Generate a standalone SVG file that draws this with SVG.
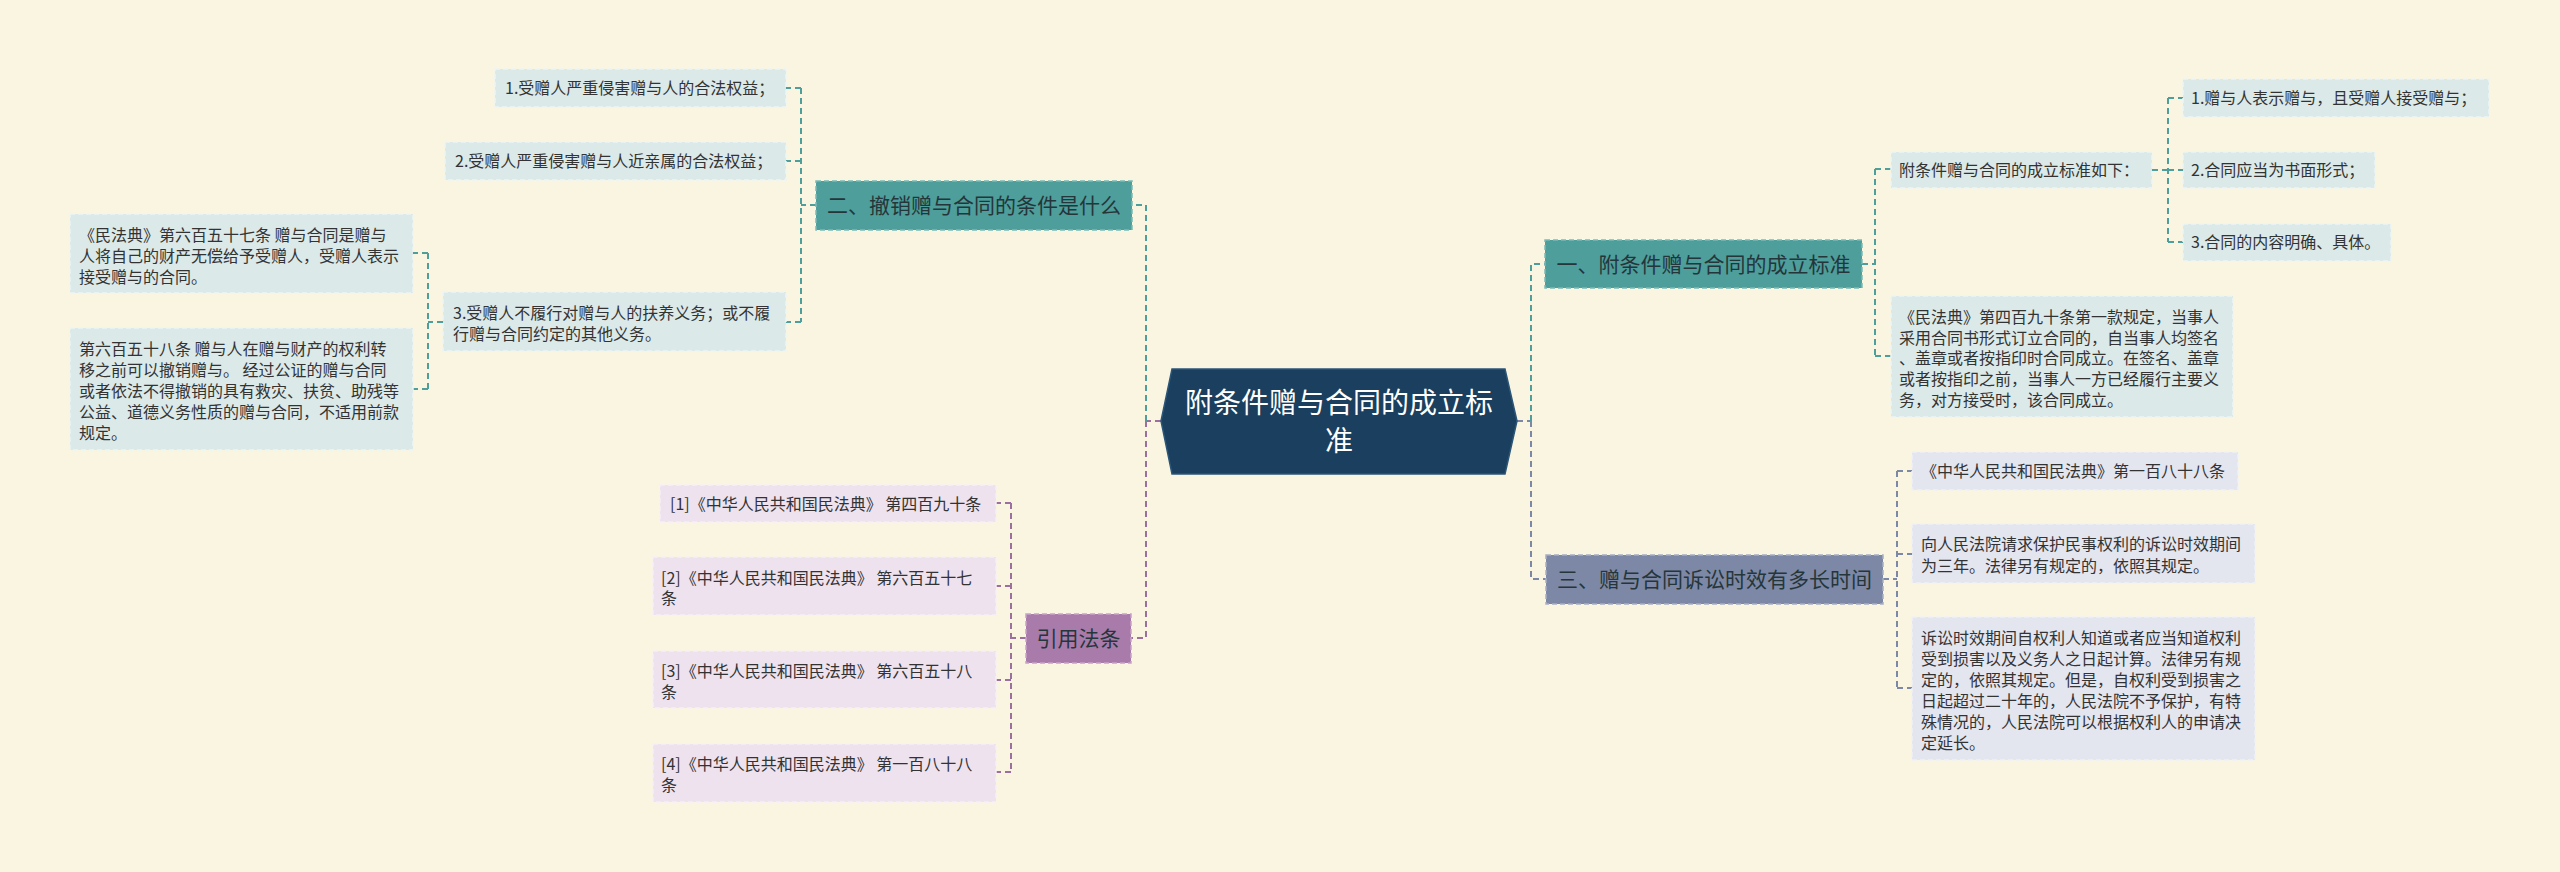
<svg xmlns="http://www.w3.org/2000/svg" width="2560" height="872" viewBox="0 0 2560 872">
<style>
text{font-family:"Noto Sans CJK SC","Liberation Sans",sans-serif;}
.bg{fill:#faf5e0;}
.c{fill:none;stroke-width:2;stroke-dasharray:6 4;}
.ct{stroke:#4e9e9c;}
.cs{stroke:#7d88a6;}
.cp{stroke:#9b6f9e;}
.n1{stroke-width:1.5;stroke-dasharray:5 3;}
.teal{fill:#4e9e9c;stroke:#7bbab8;}
.slate{fill:#7d88a6;stroke:#a6aec4;}
.purp{fill:#a97bab;stroke:#c7a3c8;}
.t1{font-size:21px;fill:#25363a;text-anchor:middle;}
.bt{fill:#dbe9e9;stroke:#eef5f5;stroke-width:1.5;stroke-dasharray:5 3;}
.bs{fill:#e3e5ef;stroke:#f0f1f6;stroke-width:1.5;stroke-dasharray:5 3;}
.bp{fill:#ede2ee;stroke:#f6eff6;stroke-width:1.5;stroke-dasharray:5 3;}
.t2{font-size:16px;fill:#333333;}
</style>
<rect class="bg" x="0" y="0" width="2560" height="872"/>
<g id="connectors">
<path class="c cp" d="M1161,421 H1146"/>
<path class="c ct" d="M1146,421 V205 H1132"/>
<path class="c cp" d="M1146,421 V638 H1131"/>
<path class="c ct" d="M816,205 H801"/>
<path class="c ct" d="M801,88 V322"/>
<path class="c ct" d="M801,88 H786 M801,161 H786 M801,322 H786"/>
<path class="c ct" d="M443,322 H428"/>
<path class="c ct" d="M428,253 V389"/>
<path class="c ct" d="M428,253 H413 M428,389 H413"/>
<path class="c cp" d="M1026,638 H1011"/>
<path class="c cp" d="M1011,503 V772"/>
<path class="c cp" d="M1011,503 H996 M1011,586 H996 M1011,680 H996 M1011,772 H996"/>
<path class="c cs" d="M1517,421 H1531"/>
<path class="c ct" d="M1531,421 V264 H1545"/>
<path class="c cs" d="M1531,421 V579 H1546"/>
<path class="c ct" d="M1862,264 H1875"/>
<path class="c ct" d="M1875,169 V356"/>
<path class="c ct" d="M1875,169 H1891 M1875,356 H1891"/>
<path class="c ct" d="M2152,170 H2168"/>
<path class="c ct" d="M2168,98 V242"/>
<path class="c ct" d="M2168,98 H2183 M2168,170 H2183 M2168,242 H2183"/>
<path class="c cs" d="M1883,579 H1897"/>
<path class="c cs" d="M1897,471 V688"/>
<path class="c cs" d="M1897,471 H1912 M1897,554 H1912 M1897,688 H1912"/>
</g>
<g id="root">
<polygon points="1161,421 1172,369 1505,369 1517,421 1505,474 1172,474" fill="#1b3f5e" stroke="#2c5678" stroke-width="1.5"/>
<text x="1339" y="413" font-size="28" fill="#ffffff" text-anchor="middle">附条件赠与合同的成立标</text>
<text x="1339" y="451" font-size="28" fill="#ffffff" text-anchor="middle">准</text>
</g>
<g id="n2">
<rect class="n1 teal" x="816" y="181" width="316" height="49"/>
<text class="t1" x="974" y="213">二、撤销赠与合同的条件是什么</text>
</g>
<g id="n2a">
<rect class="bt" x="495" y="69" width="291" height="38"/>
<text class="t2" x="505" y="94">1.受赠人严重侵害赠与人的合法权益；</text>
</g>
<g id="n2b">
<rect class="bt" x="445" y="142" width="341" height="38"/>
<text class="t2" x="455" y="167">2.受赠人严重侵害赠与人近亲属的合法权益；</text>
</g>
<g id="n2c">
<rect class="bt" x="443" y="292" width="343" height="59"/>
<text class="t2" x="453" y="319">3.受赠人不履行对赠与人的扶养义务；或不履</text>
<text class="t2" x="453" y="340">行赠与合同约定的其他义务。</text>
</g>
<g id="n2c1">
<rect class="bt" x="70" y="214" width="343" height="79"/>
<text class="t2" x="79" y="241">《民法典》第六百五十七条 赠与合同是赠与</text>
<text class="t2" x="79" y="262">人将自己的财产无偿给予受赠人，受赠人表示</text>
<text class="t2" x="79" y="283">接受赠与的合同。</text>
</g>
<g id="n2c2">
<rect class="bt" x="70" y="328" width="343" height="122"/>
<text class="t2" x="79" y="355">第六百五十八条 赠与人在赠与财产的权利转</text>
<text class="t2" x="79" y="376">移之前可以撤销赠与。 经过公证的赠与合同</text>
<text class="t2" x="79" y="397">或者依法不得撤销的具有救灾、扶贫、助残等</text>
<text class="t2" x="79" y="418">公益、道德义务性质的赠与合同，不适用前款</text>
<text class="t2" x="79" y="439">规定。</text>
</g>
<g id="n4">
<rect class="n1 purp" x="1026" y="614" width="105" height="49"/>
<text class="t1" x="1078.5" y="646" fill="#3a2a3c">引用法条</text>
</g>
<g id="n4a">
<rect class="bp" x="660" y="485" width="336" height="37"/>
<text class="t2" x="670" y="510">[1]《中华人民共和国民法典》 第四百九十条</text>
</g>
<g id="n4b">
<rect class="bp" x="653" y="557" width="343" height="58"/>
<text class="t2" x="661" y="584">[2]《中华人民共和国民法典》 第六百五十七</text>
<text class="t2" x="661" y="604">条</text>
</g>
<g id="n4c">
<rect class="bp" x="653" y="651" width="343" height="57"/>
<text class="t2" x="661" y="677">[3]《中华人民共和国民法典》 第六百五十八</text>
<text class="t2" x="661" y="698">条</text>
</g>
<g id="n4d">
<rect class="bp" x="653" y="744" width="343" height="58"/>
<text class="t2" x="661" y="770">[4]《中华人民共和国民法典》 第一百八十八</text>
<text class="t2" x="661" y="791">条</text>
</g>
<g id="n1">
<rect class="n1 teal" x="1545" y="240" width="317" height="48"/>
<text class="t1" x="1703.5" y="271.5">一、附条件赠与合同的成立标准</text>
</g>
<g id="n1a">
<rect class="bt" x="1891" y="152" width="261" height="36"/>
<text class="t2" x="1899" y="176">附条件赠与合同的成立标准如下：</text>
</g>
<g id="n1a1">
<rect class="bt" x="2183" y="79" width="306" height="38"/>
<text class="t2" x="2191" y="104">1.赠与人表示赠与，且受赠人接受赠与；</text>
</g>
<g id="n1a2">
<rect class="bt" x="2183" y="152" width="192" height="36"/>
<text class="t2" x="2191" y="176">2.合同应当为书面形式；</text>
</g>
<g id="n1a3">
<rect class="bt" x="2183" y="224" width="208" height="37"/>
<text class="t2" x="2191" y="248">3.合同的内容明确、具体。</text>
</g>
<g id="n1b">
<rect class="bt" x="1891" y="296" width="342" height="121"/>
<text class="t2" x="1899" y="323">《民法典》第四百九十条第一款规定，当事人</text>
<text class="t2" x="1899" y="344">采用合同书形式订立合同的，自当事人均签名</text>
<text class="t2" x="1899" y="364">、盖章或者按指印时合同成立。在签名、盖章</text>
<text class="t2" x="1899" y="385">或者按指印之前，当事人一方已经履行主要义</text>
<text class="t2" x="1899" y="406">务，对方接受时，该合同成立。</text>
</g>
<g id="n3">
<rect class="n1 slate" x="1546" y="555" width="337" height="49"/>
<text class="t1" x="1714.5" y="587" fill="#262c3c">三、赠与合同诉讼时效有多长时间</text>
</g>
<g id="n3a">
<rect class="bs" x="1912" y="452" width="326" height="38"/>
<text class="t2" x="1921" y="477">《中华人民共和国民法典》第一百八十八条</text>
</g>
<g id="n3b">
<rect class="bs" x="1912" y="524" width="343" height="59"/>
<text class="t2" x="1921" y="550">向人民法院请求保护民事权利的诉讼时效期间</text>
<text class="t2" x="1921" y="572">为三年。法律另有规定的，依照其规定。</text>
</g>
<g id="n3c">
<rect class="bs" x="1912" y="617" width="343" height="143"/>
<text class="t2" x="1921" y="644">诉讼时效期间自权利人知道或者应当知道权利</text>
<text class="t2" x="1921" y="665">受到损害以及义务人之日起计算。法律另有规</text>
<text class="t2" x="1921" y="686">定的，依照其规定。但是，自权利受到损害之</text>
<text class="t2" x="1921" y="707">日起超过二十年的，人民法院不予保护，有特</text>
<text class="t2" x="1921" y="728">殊情况的，人民法院可以根据权利人的申请决</text>
<text class="t2" x="1921" y="749">定延长。</text>
</g>
</svg>
